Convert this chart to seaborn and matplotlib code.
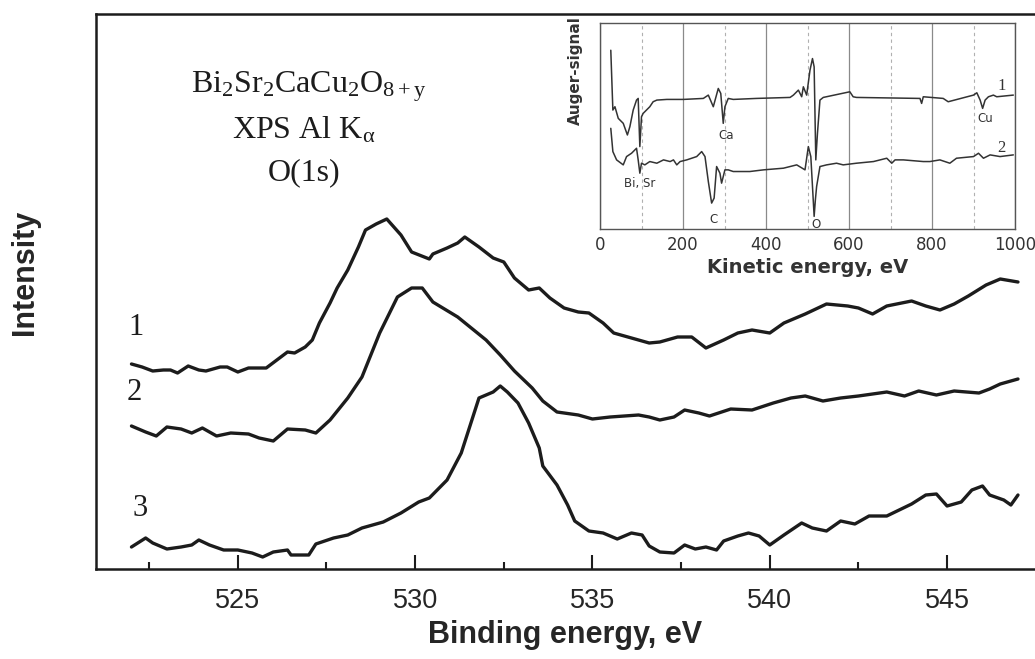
import matplotlib
matplotlib.use("Agg")
import matplotlib.pyplot as plt
import matplotlib.ticker as ticker
import numpy as np
import pandas as pd
import seaborn as sns

# --- O(1s) XPS spectra (binding energy, eV / intensity, arb. units) ---
be_1 = [522.0, 522.3, 522.6, 522.9, 523.1, 523.3, 523.6, 523.9, 524.1, 524.5, 524.7, 525.0,
        525.3, 525.8, 526.1, 526.4, 526.6, 526.9, 527.1, 527.3, 527.6, 527.8, 528.1, 528.4,
        528.6, 528.9, 529.2, 529.4, 529.6, 529.9, 530.4, 530.5, 530.9, 531.2, 531.4, 531.8,
        532.2, 532.5, 532.8, 533.2, 533.5, 533.8, 534.2, 534.6, 534.9, 535.3, 535.6, 536.1,
        536.6, 536.9, 537.4, 537.8, 538.2, 538.7, 539.1, 539.5, 540.0, 540.4, 541.0, 541.6,
        542.2, 542.5, 542.9, 543.3, 544.0, 544.4, 544.8, 545.2, 545.6, 546.1, 546.5, 547.0]
int_1 = [205, 202, 198, 199, 199, 196, 203, 199, 198, 202, 202, 197,
         201, 201, 209, 217, 216, 222, 229, 246, 266, 281, 299, 322,
         339, 345, 350, 342, 334, 317, 310, 315, 321, 326, 332, 322,
         311, 307, 291, 279, 281, 271, 261, 257, 256, 246, 236, 231,
         226, 227, 232, 232, 221, 229, 236, 239, 236, 246, 255, 265,
         263, 261, 255, 263, 268, 263, 259, 265, 273, 284, 290, 287]

be_2 = [522.0, 522.4, 522.7, 523.0, 523.4, 523.7, 524.0, 524.4, 524.8, 525.3, 525.6, 526.0,
        526.4, 526.9, 527.2, 527.6, 528.1, 528.5, 529.0, 529.5, 529.9, 530.2, 530.5, 531.2,
        532.0, 532.4, 532.8, 533.3, 533.6, 534.0, 534.6, 535.0, 535.5, 536.3, 536.6, 536.9,
        537.3, 537.6, 538.0, 538.3, 538.9, 539.5, 540.1, 540.6, 541.0, 541.5, 542.0, 542.5,
        543.3, 543.8, 544.2, 544.7, 545.2, 545.9, 546.2, 546.5, 547.0]
int_2 = [143, 137, 133, 142, 140, 136, 141, 133, 136, 135, 131, 128,
         140, 139, 136, 149, 171, 192, 236, 272, 281, 281, 267, 252,
         229, 214, 198, 181, 168, 157, 154, 150, 152, 154, 152, 149,
         152, 159, 156, 153, 160, 159, 166, 171, 173, 168, 171, 173,
         177, 173, 178, 174, 178, 176, 180, 185, 190]

be_3 = [522.0, 522.4, 522.6, 523.0, 523.4, 523.7, 523.9, 524.2, 524.6, 525.0, 525.4, 525.7,
        526.0, 526.4, 526.5, 527.0, 527.2, 527.7, 528.1, 528.5, 529.1, 529.6, 530.1, 530.4,
        530.9, 531.3, 531.6, 531.8, 532.2, 532.4, 532.6, 532.9, 533.2, 533.5, 533.6, 534.0,
        534.3, 534.5, 534.9, 535.3, 535.7, 536.1, 536.4, 536.6, 536.9, 537.3, 537.6, 537.9,
        538.2, 538.5, 538.7, 539.1, 539.4, 539.7, 540.0, 540.4, 540.9, 541.2, 541.6, 542.0,
        542.4, 542.8, 543.3, 544.0, 544.4, 544.7, 545.0, 545.4, 545.7, 546.0, 546.2, 546.6,
        546.8, 547.0]
int_3 = [22, 31, 26, 20, 22, 24, 29, 24, 19, 19, 16, 12,
         17, 19, 14, 14, 25, 31, 34, 41, 47, 56, 67, 71,
         89, 116, 149, 171, 177, 183, 177, 166, 146, 121, 103, 84,
         64, 48, 38, 36, 30, 36, 34, 23, 17, 16, 24, 20,
         22, 19, 28, 33, 36, 33, 24, 34, 46, 41, 38, 48,
         45, 53, 53, 65, 74, 75, 63, 67, 79, 83, 74, 69,
         64, 74]

# --- Auger spectra for the inset (kinetic energy, eV / dN/dE, arb. units) ---
ke_a = [26, 31, 36, 44, 56, 66, 72, 80, 88, 92, 96, 100, 104, 112, 120, 128, 137, 161, 201,
        249, 261, 273, 285, 291, 297, 301, 309, 321, 377, 458, 466, 478, 486, 490, 498, 506,
        512, 516, 520, 524, 530, 538, 602, 610, 618, 771, 775, 779, 827, 839, 900, 908, 916,
        922, 928, 936, 948, 956, 996]
aes_a = [55.0, 37.0, 38.0, 34.5, 33.0, 29.5, 32.0, 37.0, 40.0, 40.5, 26.0, 35.0, 36.0, 37.0,
         38.0, 39.5, 40.0, 40.2, 40.2, 40.5, 41.5, 38.0, 43.5, 42.0, 33.0, 38.0, 40.5, 40.2,
         40.5, 40.8, 41.5, 43.0, 41.0, 44.0, 41.5, 49.0, 52.5, 50.0, 22.0, 30.0, 40.0, 40.8,
         42.5, 41.0, 40.8, 40.5, 39.0, 41.0, 40.5, 39.5, 41.5, 42.2, 40.0, 37.5, 40.0, 41.0,
         41.5, 41.0, 41.5]

ke_b = [26, 31, 40, 56, 64, 76, 84, 88, 92, 96, 100, 108, 120, 137, 153, 169, 177, 185, 193,
        209, 233, 245, 253, 261, 269, 275, 281, 289, 293, 301, 309, 321, 361, 394, 442, 474,
        494, 502, 508, 512, 516, 519, 522, 530, 546, 570, 586, 618, 659, 691, 703, 711, 731,
        779, 795, 819, 843, 859, 900, 912, 924, 940, 964, 996]
aes_b = [31.5, 24.5, 22.0, 20.5, 23.0, 24.0, 25.0, 25.5, 22.0, 18.0, 21.0, 20.5, 21.5, 21.0,
         22.0, 21.5, 22.0, 20.5, 21.5, 22.0, 23.0, 24.5, 23.0, 15.5, 9.0, 10.5, 20.0, 18.0,
         15.0, 19.0, 19.0, 18.5, 18.5, 19.0, 19.5, 20.5, 19.0, 26.0, 23.0, 14.0, 5.0, 10.0,
         14.0, 20.0, 20.5, 21.0, 20.5, 21.0, 21.5, 22.5, 21.0, 22.0, 22.0, 21.5, 21.5, 22.0,
         21.0, 22.5, 23.0, 24.0, 22.5, 23.5, 23.0, 23.5]

xps = pd.concat([
    pd.DataFrame({"be": be_1, "intensity": int_1, "sample": "1"}),
    pd.DataFrame({"be": be_2, "intensity": int_2, "sample": "2"}),
    pd.DataFrame({"be": be_3, "intensity": int_3, "sample": "3"}),
])
aes = pd.concat([
    pd.DataFrame({"ke": ke_a, "signal": aes_a, "sample": "1"}),
    pd.DataFrame({"ke": ke_b, "signal": aes_b, "sample": "2"}),
])

#%%
sns.set_style("white")
plt.rcParams["font.family"] = ["Liberation Sans", "DejaVu Sans"]
plt.rcParams["mathtext.fontset"] = "custom"
plt.rcParams["mathtext.rm"] = "Liberation Serif"
plt.rcParams["mathtext.it"] = "Liberation Serif"

ink = "#1c1c1c"
fig = plt.figure(figsize=(10.35, 6.59), dpi=100, facecolor="w")
ax = fig.add_axes([96 / 1035, 90 / 659, 939 / 1035, 555 / 659])

sns.lineplot(data=xps, x="be", y="intensity", units="sample", estimator=None, sort=False,
             color=ink, lw=2.4, ax=ax, legend=False)

ax.set_xlim(521.0, 547.48)
ax.set_ylim(0, 555)
ax.xaxis.set_major_locator(ticker.MultipleLocator(5))
ax.xaxis.set_minor_locator(ticker.MultipleLocator(2.5))
ax.set_yticks([])
ax.tick_params(axis="x", which="major", bottom=True, direction="in", length=10, width=1.5,
               color=ink, labelsize=19.5, pad=14)
ax.tick_params(axis="x", which="minor", bottom=True, direction="in", length=5, width=1.5,
               color=ink)
for side in ["left", "bottom", "top"]:
    ax.spines[side].set_linewidth(1.8)
    ax.spines[side].set_color(ink)
ax.spines["right"].set_visible(False)

ax.set_xlabel("Binding energy, eV", fontsize=22, fontweight="bold", labelpad=4)
ax.set_ylabel("")
fig.text(25 / 1035, 1 - 272 / 659, "Intensity", rotation=90, fontsize=22,
         fontweight="bold", ha="center", va="center")

serif = ["Liberation Serif", "DejaVu Serif"]
for lab, x, y in [("1", 522.13, 227), ("2", 522.07, 162), ("3", 522.24, 46)]:
    ax.text(x, y, lab, fontsize=22, family=serif, ha="center", va="bottom", color=ink)

ax.text(527.0, 477, r"Bi$_2$Sr$_2$CaCu$_2$O$_{8+y}$", fontsize=23, family=serif,
        ha="center", va="baseline", color=ink)
ax.text(526.86, 431, r"XPS Al K$_{α}$", fontsize=23, family=serif,
        ha="center", va="baseline", color=ink)
ax.text(526.86, 389, "O(1s)", fontsize=23, family=serif,
        ha="center", va="baseline", color=ink)

#%% inset
axi = fig.add_axes([600 / 1035, 430 / 659, 415 / 1035, 206 / 659])
axi.set_facecolor("w")
sns.lineplot(data=aes, x="ke", y="signal", units="sample", estimator=None, sort=False,
             color="#333333", lw=1.1, ax=axi, legend=False)
axi.set_xlim(0, 1000)
axi.set_ylim(1.2, 63.2)
axi.xaxis.set_major_locator(ticker.MultipleLocator(200))
axi.xaxis.set_minor_locator(ticker.MultipleLocator(100))
axi.set_yticks([])
axi.grid(True, which="major", axis="x", color="#8a8a8a", lw=0.9)
axi.grid(True, which="minor", axis="x", color="#b0b0b0", lw=0.8, ls=(0, (3, 3)))
axi.tick_params(axis="x", which="both", length=0, labelsize=12, pad=5,
                labelcolor="#333333")
for lbl in axi.get_xticklabels():
    lbl.set_family(["DejaVu Sans"])
for side in axi.spines.values():
    side.set_color("#555555")
    side.set_linewidth(1.0)
axi.set_xlabel("Kinetic energy, eV", fontsize=14, fontweight="bold", family=["DejaVu Sans"],
               color="#333333", labelpad=3)
axi.set_ylabel("Auger-signal", fontsize=11, fontweight="bold", family=["DejaVu Sans"],
               color="#333333")
axi.yaxis.set_label_coords(-0.04, 0.77)

small = dict(fontsize=8.5, family=["DejaVu Sans"], color="#333333", ha="center", va="center")
axi.text(305, 29.2, "Ca", **small)
axi.text(928, 34.5, "Cu", **small)
axi.text(96, 15.0, "Bi, Sr", **small)
axi.text(273, 4.0, "C", **small)
axi.text(520, 2.6, "O", **small)
axi.text(968, 44.2, "1", fontsize=12, family=serif, color="#333333", ha="center", va="center")
axi.text(968, 25.5, "2", fontsize=12, family=serif, color="#333333", ha="center", va="center")

fig.savefig("out.png", dpi=100)
